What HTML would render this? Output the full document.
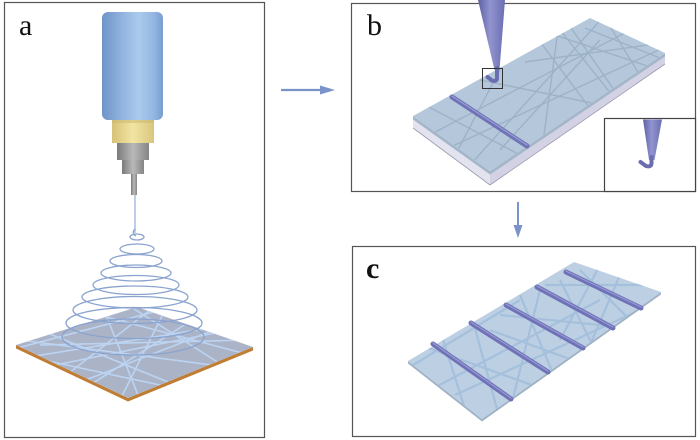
<!DOCTYPE html>
<html><head><meta charset="utf-8"><style>
html,body{margin:0;padding:0;background:#fff;width:700px;height:440px;overflow:hidden}
svg{display:block}
text{font-family:"Liberation Serif",serif;font-size:30px;fill:#111}
</style></head><body>
<svg width="700" height="440" viewBox="0 0 700 440" xmlns="http://www.w3.org/2000/svg">
<defs>
<linearGradient id="cyl" x1="0" x2="1" y1="0" y2="0">
<stop offset="0" stop-color="#6f94c8"/><stop offset="0.35" stop-color="#93b5e0"/><stop offset="0.6" stop-color="#abcaee"/><stop offset="0.85" stop-color="#93b6e2"/><stop offset="1" stop-color="#789dd0"/>
</linearGradient>
<linearGradient id="yel" x1="0" x2="1"><stop offset="0" stop-color="#d6c277"/><stop offset="0.5" stop-color="#f2e5a3"/><stop offset="1" stop-color="#d8c67c"/></linearGradient>
<linearGradient id="gry" x1="0" x2="1"><stop offset="0" stop-color="#7a7a7a"/><stop offset="0.5" stop-color="#b9b9b9"/><stop offset="1" stop-color="#858585"/></linearGradient>
<linearGradient id="cone" x1="0" x2="1"><stop offset="0" stop-color="#5c60a4"/><stop offset="0.45" stop-color="#9194cf"/><stop offset="1" stop-color="#6a6eb0"/></linearGradient>
<clipPath id="plateA"><polygon points="16,345 137,307 253,347 128,398"/></clipPath>
<clipPath id="plateB"><polygon points="413,116 590,18 665,53 490,171"/></clipPath>
<clipPath id="plateC"><polygon points="408,361 574,262 661,292 482,419"/></clipPath>
</defs>

<!-- Panel borders -->
<rect x="4.5" y="2.5" width="260" height="435" fill="none" stroke="#555" stroke-width="1.2"/>
<rect x="351.5" y="3.5" width="344" height="188" fill="none" stroke="#555" stroke-width="1.2"/>
<rect x="352.5" y="246.5" width="343" height="190" fill="none" stroke="#555" stroke-width="1.2"/>

<!-- Labels -->
<text x="19" y="35">a</text>
<text x="367" y="35">b</text>
<text x="366" y="278" font-weight="bold">c</text>

<!-- Arrows -->
<line x1="281" y1="90" x2="323" y2="90" stroke="#7a93c9" stroke-width="2.2"/>
<polygon points="320,85.5 335,90 320,94.5" fill="#7a93c9"/>
<line x1="518" y1="202" x2="518" y2="227" stroke="#7a93c9" stroke-width="2"/>
<polygon points="513.5,225 518,238 522.5,225" fill="#7a93c9"/>

<!-- Panel a: syringe -->
<rect x="102" y="12" width="61" height="108" rx="6" fill="url(#cyl)"/>
<rect x="112" y="120" width="42" height="23" fill="url(#yel)"/>
<rect x="112" y="120" width="42" height="3" fill="#c9b66c" opacity="0.5"/>
<rect x="117" y="143" width="32" height="17" fill="url(#gry)"/>
<rect x="122" y="160" width="22" height="14" fill="url(#gry)"/>
<rect x="131" y="174" width="6" height="21" fill="url(#gry)"/>
<line x1="135" y1="195" x2="135" y2="233" stroke="#a5bde6" stroke-width="1.5"/>

<!-- Plate a -->
<polygon points="16,345 128,398 253,347 253,350.5 128,401.5 16,348.5" fill="#c07d34"/>
<polygon points="16,345 137,307 253,347 128,398" fill="#abb3c7"/>
<g clip-path="url(#plateA)" stroke="#bcd4f2" stroke-width="1.6" fill="none">
<line x1="10" y1="360" x2="260" y2="320"/>
<line x1="20" y1="340" x2="250" y2="370"/>
<line x1="40" y1="330" x2="200" y2="395"/>
<line x1="80" y1="310" x2="250" y2="355"/>
<line x1="10" y1="350" x2="180" y2="305"/>
<line x1="60" y1="390" x2="240" y2="320"/>
<line x1="100" y1="300" x2="140" y2="400"/>
<line x1="170" y1="300" x2="120" y2="400"/>
<line x1="30" y1="370" x2="230" y2="330"/>
<line x1="120" y1="300" x2="230" y2="370"/>
<line x1="20" y1="355" x2="160" y2="385"/>
<line x1="150" y1="310" x2="60" y2="380"/>
<line x1="40" y1="345" x2="250" y2="340"/>
<line x1="90" y1="385" x2="200" y2="315"/>
</g>

<!-- Spiral -->
<g fill="none" stroke="#8aa3cf" stroke-width="1.3">
<path d="M135,229 Q131,233 136,236"/>
<ellipse cx="137" cy="237" rx="7" ry="3"/>
<ellipse cx="137" cy="249" rx="17" ry="5"/>
<ellipse cx="136" cy="261" rx="26" ry="6.5"/>
<ellipse cx="136" cy="273" rx="35" ry="8"/>
<ellipse cx="136" cy="285" rx="43" ry="9.5"/>
<ellipse cx="135" cy="297" rx="53" ry="11"/>
<ellipse cx="135" cy="310" rx="62" ry="13.5"/>
<ellipse cx="134" cy="323" rx="68" ry="15.5"/>
<ellipse cx="133" cy="337" rx="71" ry="18"/>
</g>

<!-- Panel b slab -->
<polygon points="413,119 490,174 490,185 413,128" fill="#e3e3ef"/>
<polygon points="490,174 665,56 665,64 490,185" fill="#d2d2e4"/>
<polyline points="413,128 490,185 665,64" fill="none" stroke="#9a9ab0" stroke-width="0.8"/>
<polygon points="413,116 490,171 665,53 665,56.5 490,174.5 413,119.5" fill="#a3b6ca"/>
<polygon points="413,116 590,18 665,53 490,171" fill="#b5c8db"/>
<g clip-path="url(#plateB)" stroke="#9db2c7" stroke-width="1.4" fill="none">
<line x1="420" y1="140" x2="640" y2="25"/>
<line x1="440" y1="152" x2="680" y2="40"/>
<line x1="470" y1="165" x2="605" y2="15"/>
<line x1="540" y1="165" x2="560" y2="15"/>
<line x1="610" y1="135" x2="520" y2="15"/>
<line x1="635" y1="120" x2="560" y2="12"/>
<line x1="655" y1="100" x2="600" y2="10"/>
<line x1="450" y1="165" x2="505" y2="60"/>
<line x1="425" y1="105" x2="545" y2="168"/>
<line x1="480" y1="80" x2="650" y2="115"/>
<line x1="555" y1="35" x2="665" y2="72"/>
<line x1="525" y1="62" x2="670" y2="42"/>
<line x1="585" y1="28" x2="665" y2="60"/>
<line x1="500" y1="150" x2="600" y2="40"/>
<line x1="560" y1="30" x2="640" y2="130"/>
</g>
<line x1="452" y1="97" x2="527" y2="146" stroke="#6f73b5" stroke-width="5" stroke-linecap="round"/>
<line x1="452" y1="96" x2="527" y2="145" stroke="#9a9dd4" stroke-width="1.2" stroke-linecap="round"/>

<!-- needle b -->
<polygon points="478,0 505,0 499.5,70 494.5,70" fill="url(#cone)"/>
<path d="M497,68 L497,78 Q497,82 492,80.5 L487.5,77" fill="none" stroke="#6a6db0" stroke-width="4" stroke-linecap="round"/>
<rect x="482.5" y="68.5" width="20" height="20" fill="none" stroke="#333" stroke-width="1"/>

<!-- inset -->
<rect x="604.5" y="118.5" width="91" height="73" fill="#fff" stroke="#444" stroke-width="1.2"/>
<polygon points="643,119.5 662,119.5 654.5,160 649,160" fill="url(#cone)"/>
<path d="M651.5,157 L651.5,163 Q651.5,167.5 646,166 L640.5,162" fill="none" stroke="#6a6db0" stroke-width="4" stroke-linecap="round"/>

<!-- Panel c slab -->
<polygon points="408,361 482,419 661,292 661,294.5 482,421.5 408,363.5" fill="#9fb2c6"/>
<polygon points="408,361 574,262 661,292 482,419" fill="#bdd0e3"/>
<g clip-path="url(#plateC)" stroke="#a5c0dc" stroke-width="2.2" fill="none">
<line x1="405" y1="370" x2="520" y2="300"/>
<line x1="420" y1="345" x2="560" y2="395"/>
<line x1="440" y1="330" x2="470" y2="425"/>
<line x1="470" y1="310" x2="500" y2="420"/>
<line x1="490" y1="330" x2="600" y2="370"/>
<line x1="520" y1="295" x2="560" y2="390"/>
<line x1="540" y1="290" x2="510" y2="410"/>
<line x1="500" y1="315" x2="650" y2="330"/>
<line x1="560" y1="280" x2="600" y2="360"/>
<line x1="580" y1="270" x2="640" y2="330"/>
<line x1="600" y1="265" x2="560" y2="340"/>
<line x1="545" y1="285" x2="665" y2="285"/>
<line x1="430" y1="390" x2="600" y2="300"/>
<line x1="455" y1="395" x2="640" y2="310"/>
<line x1="620" y1="275" x2="590" y2="345"/>
</g>
<g stroke-linecap="round">
<line x1="433" y1="344" x2="511" y2="399" stroke="#6f72b6" stroke-width="5"/>
<line x1="471" y1="323" x2="548" y2="372" stroke="#6f72b6" stroke-width="5"/>
<line x1="506" y1="305" x2="583" y2="348" stroke="#6f72b6" stroke-width="5"/>
<line x1="537" y1="287" x2="613" y2="328" stroke="#6f72b6" stroke-width="5"/>
<line x1="566" y1="272" x2="641" y2="308" stroke="#6f72b6" stroke-width="5"/>
</g>
<g stroke="#9699d2" stroke-width="1.2" stroke-linecap="round">
<line x1="433" y1="343" x2="511" y2="398"/>
<line x1="471" y1="322" x2="548" y2="371"/>
<line x1="506" y1="304" x2="583" y2="347"/>
<line x1="537" y1="286" x2="613" y2="327"/>
<line x1="566" y1="271" x2="641" y2="307"/>
</g>
</svg>
</body></html>
